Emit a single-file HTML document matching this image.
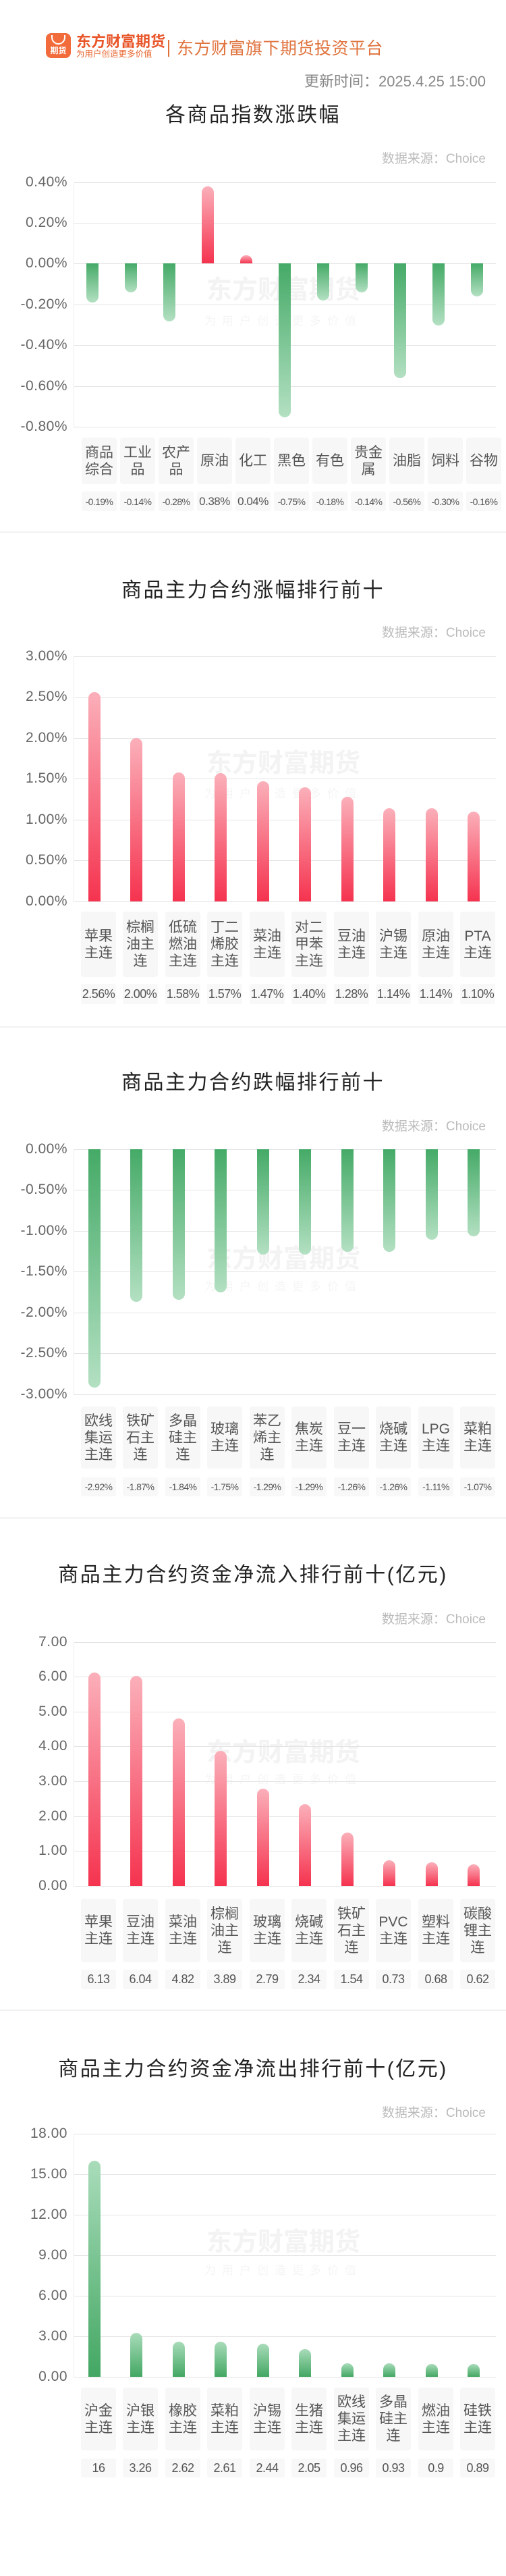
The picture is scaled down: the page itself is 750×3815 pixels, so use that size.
<!DOCTYPE html>
<html><head><meta charset="utf-8"><style>
*{margin:0;padding:0;box-sizing:border-box}
body{width:750px;height:3815px;position:relative;background:#fff;font-family:"Liberation Sans","Noto Sans CJK SC",sans-serif;overflow:hidden}
.a{position:absolute}
.t{position:absolute;left:0;width:750px;text-align:center;font-size:30px;letter-spacing:2.5px;color:#222;line-height:40px}
.ds{position:absolute;right:30px;font-size:19px;color:#bbb;line-height:24px}
.g{position:absolute;left:110px;width:625px;height:1px;background:#e4e4e4}
.ax{position:absolute;left:109px;width:1px;background:#eee}
.yl{position:absolute;left:0;width:100px;text-align:right;font-size:21px;letter-spacing:0.5px;color:#666;line-height:24px}
.b{position:absolute;width:18px}
.ru{background:linear-gradient(to bottom,#fbb0ba,#f5334f);border-radius:9px 9px 0 0}
.gd{background:linear-gradient(to bottom,#45aa67,#b3e0c2);border-radius:0 0 9px 9px}
.gu{background:linear-gradient(to bottom,#a9dcba,#43a763);border-radius:9px 9px 0 0}
.lb{position:absolute;width:52px;background:#f7f7f7;border-radius:4px;display:flex;align-items:center;justify-content:center;text-align:center;font-size:21px;line-height:25px;color:#555}
.vb{position:absolute;width:52px;background:#f8f8f8;border-radius:3px;display:flex;align-items:center;justify-content:center;font-size:18px;color:#555;white-space:nowrap;letter-spacing:-0.5px}
.sm{font-size:14px;letter-spacing:-0.6px}
.sep{position:absolute;left:0;width:750px;height:2px;background:#f2f2f2}
.wm{position:absolute;left:300px;width:240px;text-align:center;color:#f3f3f3;font-size:38px;font-weight:bold;line-height:44px}
.wt{position:absolute;left:300px;width:240px;text-align:center;color:#f5f5f5;font-size:17px;letter-spacing:9px;line-height:20px}
</style></head><body>

<!-- header -->
<div class="a" style="left:68px;top:49px;width:37px;height:37px;background:#f26b3a;border-radius:8px;color:#fff;font-size:12px;font-weight:bold;text-align:center;line-height:12px;padding-top:20px">期货</div>
<div class="a" style="left:76px;top:52px;width:21px;height:14px;border:2px solid #fff;border-top:none;border-radius:0 0 11px 11px"></div>
<div class="a" style="left:113px;top:50px;font-size:22px;font-weight:bold;color:#e8562a;line-height:24px">东方财富期货</div>
<div class="a" style="left:113px;top:74px;font-size:12.5px;color:#e8662f;line-height:13px">为用户创造更多价值</div>
<div class="a" style="left:249px;top:59px;width:2px;height:25px;background:#e0703a"></div>
<div class="a" style="left:262px;top:58px;font-size:25px;color:#e0743f;line-height:28px;letter-spacing:0.5px">东方财富旗下期货投资平台</div>
<div class="ds" style="top:108px;font-size:22px;color:#888;line-height:26px">更新时间：2025.4.25 15:00</div>

<!-- chart 1 -->
<div class="t" style="top:151px">各商品指数涨跌幅</div>
<div class="ds" style="top:224px">数据来源：Choice</div>
<div class="wm" style="top:408px">东方财富期货</div><div class="wt" style="top:466px">为用户创造更多价值</div>
<div class="ax" style="top:270px;height:364px"></div>
<div class="g" style="top:270px"></div><div class="g" style="top:330px"></div><div class="g" style="top:390px"></div><div class="g" style="top:451px"></div><div class="g" style="top:511px"></div><div class="g" style="top:572px"></div><div class="g" style="top:632px"></div>
<div class="yl" style="top:258px">0.40%</div><div class="yl" style="top:318px">0.20%</div><div class="yl" style="top:378px">0.00%</div><div class="yl" style="top:439px">-0.20%</div><div class="yl" style="top:499px">-0.40%</div><div class="yl" style="top:560px">-0.60%</div><div class="yl" style="top:620px">-0.80%</div>
<div class="b gd" style="left:128px;top:390px;height:58px"></div>
<div class="b gd" style="left:185px;top:390px;height:43px"></div>
<div class="b gd" style="left:242px;top:390px;height:86px"></div>
<div class="b ru" style="left:299px;top:276px;height:114px"></div>
<div class="b ru" style="left:356px;top:378px;height:12px"></div>
<div class="b gd" style="left:413px;top:390px;height:228px"></div>
<div class="b gd" style="left:470px;top:390px;height:55px"></div>
<div class="b gd" style="left:527px;top:390px;height:43px"></div>
<div class="b gd" style="left:584px;top:390px;height:170px"></div>
<div class="b gd" style="left:641px;top:390px;height:92px"></div>
<div class="b gd" style="left:698px;top:390px;height:49px"></div>
<div class="lb" style="left:121px;top:648px;height:69px">商品<br>综合</div>
<div class="lb" style="left:178px;top:648px;height:69px">工业<br>品</div>
<div class="lb" style="left:235px;top:648px;height:69px">农产<br>品</div>
<div class="lb" style="left:292px;top:648px;height:69px">原油</div>
<div class="lb" style="left:349px;top:648px;height:69px">化工</div>
<div class="lb" style="left:406px;top:648px;height:69px">黑色</div>
<div class="lb" style="left:463px;top:648px;height:69px">有色</div>
<div class="lb" style="left:520px;top:648px;height:69px">贵金<br>属</div>
<div class="lb" style="left:577px;top:648px;height:69px">油脂</div>
<div class="lb" style="left:634px;top:648px;height:69px">饲料</div>
<div class="lb" style="left:691px;top:648px;height:69px">谷物</div>
<div class="vb sm" style="left:121px;top:728px;height:29px">-0.19%</div>
<div class="vb sm" style="left:178px;top:728px;height:29px">-0.14%</div>
<div class="vb sm" style="left:235px;top:728px;height:29px">-0.28%</div>
<div class="vb" style="left:292px;top:728px;height:29px;font-size:17px">0.38%</div>
<div class="vb" style="left:349px;top:728px;height:29px;font-size:17px">0.04%</div>
<div class="vb sm" style="left:406px;top:728px;height:29px">-0.75%</div>
<div class="vb sm" style="left:463px;top:728px;height:29px">-0.18%</div>
<div class="vb sm" style="left:520px;top:728px;height:29px">-0.14%</div>
<div class="vb sm" style="left:577px;top:728px;height:29px">-0.56%</div>
<div class="vb sm" style="left:634px;top:728px;height:29px">-0.30%</div>
<div class="vb sm" style="left:691px;top:728px;height:29px">-0.16%</div>
<div class="sep" style="top:787px"></div>

<!-- chart 2 -->
<div class="t" style="top:855px">商品主力合约涨幅排行前十</div>
<div class="ds" style="top:926px">数据来源：Choice</div>
<div class="wm" style="top:1109px">东方财富期货</div><div class="wt" style="top:1166px">为用户创造更多价值</div>
<div class="ax" style="top:972px;height:364px"></div>
<div class="g" style="top:972px"></div><div class="g" style="top:1032px"></div><div class="g" style="top:1093px"></div><div class="g" style="top:1153px"></div><div class="g" style="top:1214px"></div><div class="g" style="top:1274px"></div><div class="g" style="top:1335px"></div>
<div class="yl" style="top:960px">3.00%</div><div class="yl" style="top:1020px">2.50%</div><div class="yl" style="top:1081px">2.00%</div><div class="yl" style="top:1141px">1.50%</div><div class="yl" style="top:1202px">1.00%</div><div class="yl" style="top:1262px">0.50%</div><div class="yl" style="top:1323px">0.00%</div>
<div class="b ru" style="left:131px;top:1025px;height:310px"></div>
<div class="b ru" style="left:193px;top:1093px;height:242px"></div>
<div class="b ru" style="left:256px;top:1144px;height:191px"></div>
<div class="b ru" style="left:318px;top:1145px;height:190px"></div>
<div class="b ru" style="left:381px;top:1157px;height:178px"></div>
<div class="b ru" style="left:443px;top:1166px;height:169px"></div>
<div class="b ru" style="left:506px;top:1180px;height:155px"></div>
<div class="b ru" style="left:568px;top:1197px;height:138px"></div>
<div class="b ru" style="left:631px;top:1197px;height:138px"></div>
<div class="b ru" style="left:693px;top:1202px;height:133px"></div>
<div class="lb" style="left:120px;top:1350px;height:97px">苹果<br>主连</div>
<div class="lb" style="left:182px;top:1350px;height:97px">棕榈<br>油主<br>连</div>
<div class="lb" style="left:245px;top:1350px;height:97px">低硫<br>燃油<br>主连</div>
<div class="lb" style="left:307px;top:1350px;height:97px">丁二<br>烯胶<br>主连</div>
<div class="lb" style="left:370px;top:1350px;height:97px">菜油<br>主连</div>
<div class="lb" style="left:432px;top:1350px;height:97px">对二<br>甲苯<br>主连</div>
<div class="lb" style="left:495px;top:1350px;height:97px">豆油<br>主连</div>
<div class="lb" style="left:557px;top:1350px;height:97px">沪锡<br>主连</div>
<div class="lb" style="left:620px;top:1350px;height:97px">原油<br>主连</div>
<div class="lb" style="left:682px;top:1350px;height:97px">PTA<br>主连</div>
<div class="vb" style="left:120px;top:1457px;height:30px">2.56%</div>
<div class="vb" style="left:182px;top:1457px;height:30px">2.00%</div>
<div class="vb" style="left:245px;top:1457px;height:30px">1.58%</div>
<div class="vb" style="left:307px;top:1457px;height:30px">1.57%</div>
<div class="vb" style="left:370px;top:1457px;height:30px">1.47%</div>
<div class="vb" style="left:432px;top:1457px;height:30px">1.40%</div>
<div class="vb" style="left:495px;top:1457px;height:30px">1.28%</div>
<div class="vb" style="left:557px;top:1457px;height:30px">1.14%</div>
<div class="vb" style="left:620px;top:1457px;height:30px">1.14%</div>
<div class="vb" style="left:682px;top:1457px;height:30px">1.10%</div>
<div class="sep" style="top:1520px"></div>

<!-- chart 3 -->
<div class="t" style="top:1584px">商品主力合约跌幅排行前十</div>
<div class="ds" style="top:1657px">数据来源：Choice</div>
<div class="wm" style="top:1843px">东方财富期货</div><div class="wt" style="top:1896px">为用户创造更多价值</div>
<div class="ax" style="top:1702px;height:364px"></div>
<div class="g" style="top:1702px"></div><div class="g" style="top:1762px"></div><div class="g" style="top:1823px"></div><div class="g" style="top:1883px"></div><div class="g" style="top:1944px"></div><div class="g" style="top:2004px"></div><div class="g" style="top:2065px"></div>
<div class="yl" style="top:1690px">0.00%</div><div class="yl" style="top:1750px">-0.50%</div><div class="yl" style="top:1811px">-1.00%</div><div class="yl" style="top:1871px">-1.50%</div><div class="yl" style="top:1932px">-2.00%</div><div class="yl" style="top:1992px">-2.50%</div><div class="yl" style="top:2053px">-3.00%</div>
<div class="b gd" style="left:131px;top:1702px;height:353px"></div>
<div class="b gd" style="left:193px;top:1702px;height:226px"></div>
<div class="b gd" style="left:256px;top:1702px;height:223px"></div>
<div class="b gd" style="left:318px;top:1702px;height:212px"></div>
<div class="b gd" style="left:381px;top:1702px;height:156px"></div>
<div class="b gd" style="left:443px;top:1702px;height:156px"></div>
<div class="b gd" style="left:506px;top:1702px;height:152px"></div>
<div class="b gd" style="left:568px;top:1702px;height:152px"></div>
<div class="b gd" style="left:631px;top:1702px;height:134px"></div>
<div class="b gd" style="left:693px;top:1702px;height:129px"></div>
<div class="lb" style="left:120px;top:2083px;height:92px">欧线<br>集运<br>主连</div>
<div class="lb" style="left:182px;top:2083px;height:92px">铁矿<br>石主<br>连</div>
<div class="lb" style="left:245px;top:2083px;height:92px">多晶<br>硅主<br>连</div>
<div class="lb" style="left:307px;top:2083px;height:92px">玻璃<br>主连</div>
<div class="lb" style="left:370px;top:2083px;height:92px">苯乙<br>烯主<br>连</div>
<div class="lb" style="left:432px;top:2083px;height:92px">焦炭<br>主连</div>
<div class="lb" style="left:495px;top:2083px;height:92px">豆一<br>主连</div>
<div class="lb" style="left:557px;top:2083px;height:92px">烧碱<br>主连</div>
<div class="lb" style="left:620px;top:2083px;height:92px">LPG<br>主连</div>
<div class="lb" style="left:682px;top:2083px;height:92px">菜粕<br>主连</div>
<div class="vb sm" style="left:120px;top:2188px;height:28px">-2.92%</div>
<div class="vb sm" style="left:182px;top:2188px;height:28px">-1.87%</div>
<div class="vb sm" style="left:245px;top:2188px;height:28px">-1.84%</div>
<div class="vb sm" style="left:307px;top:2188px;height:28px">-1.75%</div>
<div class="vb sm" style="left:370px;top:2188px;height:28px">-1.29%</div>
<div class="vb sm" style="left:432px;top:2188px;height:28px">-1.29%</div>
<div class="vb sm" style="left:495px;top:2188px;height:28px">-1.26%</div>
<div class="vb sm" style="left:557px;top:2188px;height:28px">-1.26%</div>
<div class="vb sm" style="left:620px;top:2188px;height:28px">-1.11%</div>
<div class="vb sm" style="left:682px;top:2188px;height:28px">-1.07%</div>
<div class="sep" style="top:2247px"></div>

<!-- chart 4 -->
<div class="t" style="top:2313px">商品主力合约资金净流入排行前十(亿元)</div>
<div class="ds" style="top:2387px">数据来源：Choice</div>
<div class="wm" style="top:2574px">东方财富期货</div><div class="wt" style="top:2626px">为用户创造更多价值</div>
<div class="ax" style="top:2432px;height:362px"></div>
<div class="g" style="top:2432px"></div><div class="g" style="top:2483px"></div><div class="g" style="top:2535px"></div><div class="g" style="top:2586px"></div><div class="g" style="top:2638px"></div><div class="g" style="top:2690px"></div><div class="g" style="top:2741px"></div><div class="g" style="top:2793px"></div>
<div class="yl" style="top:2420px">7.00</div><div class="yl" style="top:2471px">6.00</div><div class="yl" style="top:2523px">5.00</div><div class="yl" style="top:2574px">4.00</div><div class="yl" style="top:2626px">3.00</div><div class="yl" style="top:2678px">2.00</div><div class="yl" style="top:2729px">1.00</div><div class="yl" style="top:2781px">0.00</div>
<div class="b ru" style="left:131px;top:2477px;height:316px"></div>
<div class="b ru" style="left:193px;top:2482px;height:311px"></div>
<div class="b ru" style="left:256px;top:2545px;height:248px"></div>
<div class="b ru" style="left:318px;top:2593px;height:200px"></div>
<div class="b ru" style="left:381px;top:2649px;height:144px"></div>
<div class="b ru" style="left:443px;top:2672px;height:121px"></div>
<div class="b ru" style="left:506px;top:2714px;height:79px"></div>
<div class="b ru" style="left:568px;top:2755px;height:38px"></div>
<div class="b ru" style="left:631px;top:2758px;height:35px"></div>
<div class="b ru" style="left:693px;top:2761px;height:32px"></div>
<div class="lb" style="left:120px;top:2812px;height:94px">苹果<br>主连</div>
<div class="lb" style="left:182px;top:2812px;height:94px">豆油<br>主连</div>
<div class="lb" style="left:245px;top:2812px;height:94px">菜油<br>主连</div>
<div class="lb" style="left:307px;top:2812px;height:94px">棕榈<br>油主<br>连</div>
<div class="lb" style="left:370px;top:2812px;height:94px">玻璃<br>主连</div>
<div class="lb" style="left:432px;top:2812px;height:94px">烧碱<br>主连</div>
<div class="lb" style="left:495px;top:2812px;height:94px">铁矿<br>石主<br>连</div>
<div class="lb" style="left:557px;top:2812px;height:94px">PVC<br>主连</div>
<div class="lb" style="left:620px;top:2812px;height:94px">塑料<br>主连</div>
<div class="lb" style="left:682px;top:2812px;height:94px">碳酸<br>锂主<br>连</div>
<div class="vb" style="left:120px;top:2917px;height:29px">6.13</div>
<div class="vb" style="left:182px;top:2917px;height:29px">6.04</div>
<div class="vb" style="left:245px;top:2917px;height:29px">4.82</div>
<div class="vb" style="left:307px;top:2917px;height:29px">3.89</div>
<div class="vb" style="left:370px;top:2917px;height:29px">2.79</div>
<div class="vb" style="left:432px;top:2917px;height:29px">2.34</div>
<div class="vb" style="left:495px;top:2917px;height:29px">1.54</div>
<div class="vb" style="left:557px;top:2917px;height:29px">0.73</div>
<div class="vb" style="left:620px;top:2917px;height:29px">0.68</div>
<div class="vb" style="left:682px;top:2917px;height:29px">0.62</div>
<div class="sep" style="top:2976px"></div>

<!-- chart 5 -->
<div class="t" style="top:3045px">商品主力合约资金净流出排行前十(亿元)</div>
<div class="ds" style="top:3118px">数据来源：Choice</div>
<div class="wm" style="top:3299px">东方财富期货</div><div class="wt" style="top:3353px">为用户创造更多价值</div>
<div class="ax" style="top:3160px;height:361px"></div>
<div class="g" style="top:3160px"></div><div class="g" style="top:3220px"></div><div class="g" style="top:3280px"></div><div class="g" style="top:3340px"></div><div class="g" style="top:3400px"></div><div class="g" style="top:3460px"></div><div class="g" style="top:3520px"></div>
<div class="yl" style="top:3148px">18.00</div><div class="yl" style="top:3208px">15.00</div><div class="yl" style="top:3268px">12.00</div><div class="yl" style="top:3328px">9.00</div><div class="yl" style="top:3388px">6.00</div><div class="yl" style="top:3448px">3.00</div><div class="yl" style="top:3508px">0.00</div>
<div class="b gu" style="left:131px;top:3200px;height:320px"></div>
<div class="b gu" style="left:193px;top:3455px;height:65px"></div>
<div class="b gu" style="left:256px;top:3468px;height:52px"></div>
<div class="b gu" style="left:318px;top:3468px;height:52px"></div>
<div class="b gu" style="left:381px;top:3471px;height:49px"></div>
<div class="b gu" style="left:443px;top:3479px;height:41px"></div>
<div class="b gu" style="left:506px;top:3500px;height:20px"></div>
<div class="b gu" style="left:568px;top:3500px;height:20px"></div>
<div class="b gu" style="left:631px;top:3501px;height:19px"></div>
<div class="b gu" style="left:693px;top:3501px;height:19px"></div>
<div class="lb" style="left:120px;top:3536px;height:93px">沪金<br>主连</div>
<div class="lb" style="left:182px;top:3536px;height:93px">沪银<br>主连</div>
<div class="lb" style="left:245px;top:3536px;height:93px">橡胶<br>主连</div>
<div class="lb" style="left:307px;top:3536px;height:93px">菜粕<br>主连</div>
<div class="lb" style="left:370px;top:3536px;height:93px">沪锡<br>主连</div>
<div class="lb" style="left:432px;top:3536px;height:93px">生猪<br>主连</div>
<div class="lb" style="left:495px;top:3536px;height:93px">欧线<br>集运<br>主连</div>
<div class="lb" style="left:557px;top:3536px;height:93px">多晶<br>硅主<br>连</div>
<div class="lb" style="left:620px;top:3536px;height:93px">燃油<br>主连</div>
<div class="lb" style="left:682px;top:3536px;height:93px">硅铁<br>主连</div>
<div class="vb" style="left:120px;top:3641px;height:28px">16</div>
<div class="vb" style="left:182px;top:3641px;height:28px">3.26</div>
<div class="vb" style="left:245px;top:3641px;height:28px">2.62</div>
<div class="vb" style="left:307px;top:3641px;height:28px">2.61</div>
<div class="vb" style="left:370px;top:3641px;height:28px">2.44</div>
<div class="vb" style="left:432px;top:3641px;height:28px">2.05</div>
<div class="vb" style="left:495px;top:3641px;height:28px">0.96</div>
<div class="vb" style="left:557px;top:3641px;height:28px">0.93</div>
<div class="vb" style="left:620px;top:3641px;height:28px">0.9</div>
<div class="vb" style="left:682px;top:3641px;height:28px">0.89</div>
</body></html>
